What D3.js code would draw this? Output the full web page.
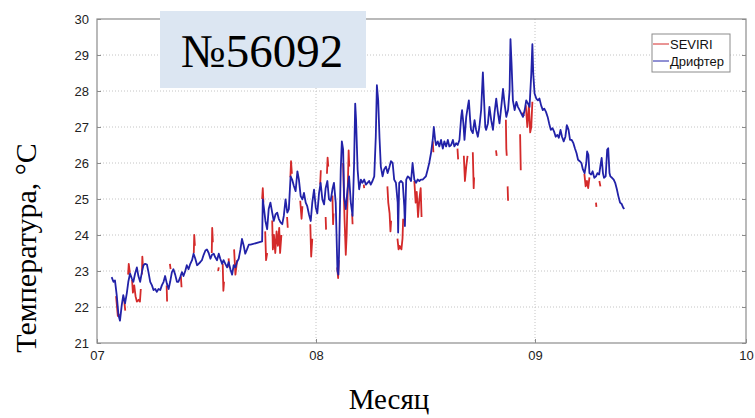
<!DOCTYPE html>
<html>
<head>
<meta charset="utf-8">
<script src="https://cdn.jsdelivr.net/npm/d3@7"></script>
<style>
  body { margin: 0; background: #fff; }
  svg { display: block; }
</style>
</head>
<body>
<script>
// buoy / drifter number shown in the label box
var buoyLabel = "№56092";

// axis ticks (month numbers and temperatures)
var monthTicks = [7, 8, 9, 10];
var monthLabels = ["07", "08", "09", "10"];
var tempTicks = [21, 22, 23, 24, 25, 26, 27, 28, 29, 30];

var seriesNames = ["SEVIRI", "Дрифтер"];

// drifter: time as fractional month, temperature in C
var driftMonth = [
  7.067, 7.075, 7.082, 7.090, 7.098, 7.105, 7.113, 7.120, 7.128, 7.136, 7.143, 7.151, 7.159, 7.166, 7.174, 7.182,
  7.189, 7.197, 7.205, 7.212, 7.220, 7.228, 7.235, 7.243, 7.251, 7.258, 7.266, 7.273, 7.281, 7.289, 7.296, 7.304,
  7.311, 7.319, 7.327, 7.334, 7.342, 7.349, 7.357, 7.365, 7.372, 7.380, 7.388, 7.395, 7.403, 7.410, 7.418, 7.426,
  7.434, 7.441, 7.449, 7.457, 7.464, 7.472, 7.479, 7.487, 7.495, 7.502, 7.510, 7.518, 7.525, 7.533, 7.540, 7.548,
  7.556, 7.563, 7.571, 7.578, 7.586, 7.594, 7.601, 7.609, 7.617, 7.624, 7.632, 7.639, 7.647, 7.655, 7.662, 7.670,
  7.677, 7.685, 7.693, 7.701, 7.754, 7.757, 7.762, 7.769, 7.777, 7.784, 7.792, 7.800, 7.807, 7.815, 7.823, 7.830,
  7.838, 7.846, 7.853, 7.861, 7.869, 7.876, 7.884, 7.891, 7.899, 7.907, 7.915, 7.922, 7.930, 7.938, 7.945, 7.953,
  7.960, 7.968, 7.976, 7.983, 7.991, 7.999, 8.006, 8.014, 8.021, 8.029, 8.037, 8.044, 8.052, 8.059, 8.067, 8.075,
  8.082, 8.090, 8.098, 8.102, 8.105, 8.113, 8.118, 8.124, 8.128, 8.136, 8.144, 8.151, 8.159, 8.167, 8.174, 8.179,
  8.183, 8.190, 8.197, 8.205, 8.212, 8.220, 8.228, 8.235, 8.243, 8.250, 8.258, 8.266, 8.273, 8.278, 8.284, 8.290,
  8.296, 8.304, 8.311, 8.319, 8.327, 8.334, 8.342, 8.350, 8.357, 8.365, 8.373, 8.375, 8.380, 8.388, 8.396, 8.403,
  8.406, 8.412, 8.419, 8.426, 8.434, 8.441, 8.449, 8.457, 8.464, 8.472, 8.479, 8.487, 8.495, 8.502, 8.510, 8.517,
  8.525, 8.533, 8.538, 8.544, 8.548, 8.556, 8.563, 8.571, 8.579, 8.586, 8.594, 8.602, 8.609, 8.617, 8.625, 8.632,
  8.640, 8.647, 8.655, 8.663, 8.667, 8.673, 8.678, 8.686, 8.693, 8.698, 8.704, 8.708, 8.716, 8.724, 8.731, 8.739,
  8.746, 8.754, 8.762, 8.767, 8.773, 8.777, 8.785, 8.792, 8.800, 8.808, 8.815, 8.823, 8.831, 8.838, 8.846, 8.854,
  8.861, 8.869, 8.877, 8.884, 8.888, 8.893, 8.899, 8.907, 8.915, 8.922, 8.930, 8.937, 8.945, 8.953, 8.960, 8.968,
  8.975, 8.983, 8.988, 8.992, 8.998, 9.006, 9.014, 9.021, 9.029, 9.037, 9.044, 9.052, 9.060, 9.067, 9.075, 9.083,
  9.090, 9.098, 9.106, 9.113, 9.121, 9.128, 9.136, 9.144, 9.151, 9.159, 9.166, 9.174, 9.182, 9.189, 9.197, 9.204,
  9.212, 9.220, 9.227, 9.235, 9.243, 9.247, 9.253, 9.258, 9.266, 9.273, 9.281, 9.289, 9.296, 9.304, 9.312, 9.316,
  9.322, 9.327, 9.335, 9.342, 9.347, 9.353, 9.357, 9.365, 9.373, 9.380, 9.388, 9.395, 9.403, 9.411, 9.418, 9.423
];
var driftTemp = [
  22.83, 22.70, 22.74, 22.33, 21.78, 21.62, 22.05, 22.33, 22.10, 22.38, 22.70, 22.93, 22.79, 22.70, 22.93, 23.10,
  22.86, 22.70, 22.97, 23.16, 23.20, 23.18, 22.97, 22.70, 22.60, 22.47, 22.50, 22.42, 22.50, 22.47, 22.60, 22.70,
  22.86, 22.65, 22.50, 22.70, 22.97, 23.05, 22.90, 22.70, 22.70, 22.83, 22.97, 22.86, 23.00, 23.16, 23.05, 23.20,
  23.30, 23.48, 23.34, 23.16, 23.20, 23.25, 23.30, 23.45, 23.57, 23.60, 23.50, 23.34, 23.45, 23.48, 23.38, 23.30,
  23.48, 23.34, 23.20, 23.30, 23.20, 23.10, 23.25, 23.05, 22.90, 23.16, 23.10, 23.25, 23.34, 23.60, 23.89, 23.70,
  23.48, 23.60, 23.73, 23.73, 23.82, 24.99, 24.76, 24.39, 24.16, 24.72, 24.90, 24.62, 24.39, 24.57, 24.62, 24.45,
  24.35, 24.30, 24.53, 24.99, 24.62, 24.72, 25.63, 25.54, 25.36, 25.22, 25.77, 25.54, 25.08, 24.99, 25.17, 24.90,
  24.80, 24.57, 24.39, 24.90, 25.26, 24.76, 24.60, 25.17, 25.45, 24.99, 24.85, 25.30, 25.50, 25.00, 24.95, 25.27,
  25.45, 24.90, 23.00, 22.90, 23.43, 25.82, 26.60, 26.37, 25.08, 24.72, 25.27, 25.63, 24.90, 24.53, 26.00, 27.65,
  27.19, 25.82, 25.27, 25.54, 25.45, 25.54, 25.40, 25.45, 25.50, 25.40, 25.50, 25.63, 26.73, 28.16, 27.74, 26.70,
  25.90, 25.63, 25.82, 25.90, 25.72, 25.86, 26.05, 26.00, 25.54, 25.45, 24.90, 24.07, 25.45, 25.50, 25.45, 24.80,
  24.25, 25.54, 25.63, 25.59, 25.50, 26.00, 25.54, 25.45, 25.54, 25.50, 25.54, 25.54, 25.59, 25.63, 25.82, 26.00,
  26.27, 26.64, 27.00, 26.64, 26.50, 26.60, 26.46, 26.64, 26.40, 26.60, 26.46, 26.64, 26.46, 26.50, 26.64, 26.46,
  26.55, 26.50, 26.64, 27.28, 27.47, 27.10, 26.64, 27.28, 27.56, 27.74, 27.19, 26.92, 26.83, 27.19, 26.92, 26.73,
  27.00, 27.47, 28.52, 27.80, 27.00, 26.92, 27.10, 27.56, 27.19, 26.92, 27.38, 27.79, 27.38, 27.10, 27.56, 28.06,
  27.65, 27.28, 27.47, 28.02, 29.44, 28.75, 27.74, 27.47, 27.70, 27.56, 27.47, 27.38, 27.28, 27.47, 27.74, 27.65,
  27.56, 28.48, 29.30, 28.48, 27.93, 27.79, 27.74, 27.79, 27.60, 27.47, 27.51, 27.42, 27.28, 27.10, 26.92, 26.97,
  26.88, 26.73, 26.78, 26.70, 26.92, 26.73, 26.60, 26.73, 27.05, 26.92, 26.64, 26.64, 26.55, 26.41, 26.27, 26.09,
  26.05, 26.00, 25.82, 25.72, 26.00, 26.32, 26.23, 25.72, 25.68, 25.77, 25.59, 25.63, 25.72, 25.68, 26.00, 26.14,
  25.72, 25.59, 25.63, 26.37, 26.41, 25.72, 25.63, 25.59, 25.54, 25.45, 25.27, 25.08, 24.90, 24.86, 24.76, 24.72
];

// SEVIRI: only the pieces that show from under the drifter line, null = gap
var seviriMonth = [
  7.087, 7.095, 7.103, null, 7.124, 7.129, null, 7.142, 7.145, 7.150, null,
  7.160, 7.164, 7.170, 7.176, 7.182, 7.190, 7.196, 7.200, null, 7.205, 7.207, 7.210, null,
  7.318, 7.320, null, 7.333, 7.336, null, 7.383, 7.386, null, 7.442, 7.444, 7.447, null,
  7.524, 7.526, 7.529, null, 7.553, 7.556, null, 7.574, 7.577, 7.580, null, 7.601, 7.604, null,
  7.626, 7.632, 7.640, null, 7.754, 7.757, 7.760, null, 7.768, 7.772, 7.777, null,
  7.800, 7.803, 7.808, 7.814, 7.820, 7.826, 7.832, 7.836, 7.842, null, 7.868, 7.871, null,
  7.883, 7.886, 7.890, null, 7.928, 7.934, 7.938, null, 7.974, 7.978, 7.983, null,
  8.019, 8.022, null, 8.044, 8.046, null, 8.050, 8.053, 8.056, null, 8.075, 8.078, 8.080, null,
  8.097, 8.101, 8.104, null, 8.124, 8.130, 8.136, 8.140, 8.144, 8.149, 8.152, null,
  8.165, 8.167, null, 8.218, 8.220, null, 8.326, 8.330, 8.336, 8.340, 8.343, null,
  8.372, 8.377, 8.382, 8.390, 8.395, 8.398, null, 8.449, 8.455, 8.460, 8.466, 8.472, 8.478, 8.482, null,
  8.533, 8.536, null, 8.646, 8.649, null, 8.675, 8.680, 8.686, 8.692, null, 8.716, 8.720, 8.722, null,
  8.822, 8.825, null, 8.867, 8.869, 8.871, null, 8.875, 8.877, null, 8.932, 8.935, null, 8.943, 8.950, null,
  8.958, 8.965, 8.972, 8.978, 8.983, 8.988, null, 9.234, 9.240, 9.246, 9.252, 9.258, null,
  9.289, 9.291, null, 9.305, 9.310
];
var seviriTemp = [
  22.30, 21.75, 21.80, null, 22.20, 21.90, null, 22.90, 23.20, 22.95, null,
  22.75, 22.40, 22.60, 22.30, 22.15, 22.20, 22.15, 22.50, null, 22.90, 23.40, 23.10, null,
  22.60, 22.15, null, 23.20, 23.05, null, 22.85, 22.55, null, 23.50, 24.00, 23.70, null,
  23.50, 24.20, 23.80, null, 23.00, 23.10, null, 23.20, 22.45, 22.70, null, 23.35, 23.10, null,
  23.60, 22.90, 23.30, null, 25.00, 25.30, 24.90, null, 24.10, 23.30, 23.50, null,
  24.40, 23.60, 24.00, 23.50, 24.10, 23.70, 24.20, 23.50, 24.00, null, 24.50, 24.20, null,
  25.60, 26.05, 25.70, null, 24.95, 24.45, 24.80, null, 24.30, 23.40, 23.90, null,
  25.40, 25.80, null, 24.50, 24.15, null, 25.70, 26.15, 25.90, null, 25.10, 24.30, 24.60, null,
  23.10, 22.80, 23.30, null, 26.00, 24.50, 23.45, 24.00, 25.00, 26.35, 25.90, null,
  24.60, 24.30, null, 25.40, 25.30, null, 25.35, 24.90, 24.60, 24.10, 24.40, null,
  23.90, 23.60, 23.70, 23.60, 23.90, 24.45, null, 25.50, 24.90, 25.20, 24.50, 25.00, 25.30, 24.50, null,
  26.60, 26.30, null, 26.40, 26.10, null, 26.20, 25.50, 25.90, 26.20, null, 26.30, 25.30, 25.60, null,
  26.35, 26.20, null, 27.20, 26.40, 26.20, null, 25.35, 24.95, null, 26.80, 25.80, null, 27.40, 27.30, null,
  27.60, 27.00, 27.60, 26.85, 27.00, 27.70, null, 25.70, 25.35, 25.50, 25.30, 25.60, null,
  24.90, 24.78, null, 25.50, 25.35
];

var W = 755, H = 418;
var plot = {left: 97, right: 746, top: 19, bottom: 343};

var svg = d3.select("body").append("svg")
    .attr("width", W)
    .attr("height", H);

// month axis: July, August have 31 days, September 30 -> uneven spacing
var x = d3.scaleLinear()
    .domain(monthTicks)
    .range([plot.left, 316, 535, plot.right]);

var y = d3.scaleLinear()
    .domain([21, 30])
    .range([plot.bottom, plot.top]);

// grid (dotted)
svg.append("g")
    .selectAll("line")
    .data(tempTicks.slice(1, -1))
    .join("line")
      .attr("x1", plot.left).attr("x2", plot.right)
      .attr("y1", function(d) { return y(d); })
      .attr("y2", function(d) { return y(d); })
      .attr("stroke", "#c4c4c4")
      .attr("stroke-dasharray", "1,2");

svg.append("g")
    .selectAll("line")
    .data(monthTicks.slice(1, -1))
    .join("line")
      .attr("x1", function(d) { return x(d); })
      .attr("x2", function(d) { return x(d); })
      .attr("y1", plot.top).attr("y2", plot.bottom)
      .attr("stroke", "#c4c4c4")
      .attr("stroke-dasharray", "1,2");

// frame box
svg.append("rect")
    .attr("x", plot.left).attr("y", plot.top)
    .attr("width", plot.right - plot.left)
    .attr("height", plot.bottom - plot.top)
    .attr("fill", "none")
    .attr("stroke", "#8c8c8c")
    .attr("stroke-width", 1.2);

// axes with inward ticks
var yAxis = d3.axisLeft(y).tickValues(tempTicks).tickSize(-4).tickPadding(8);
var gy = svg.append("g")
    .attr("transform", "translate(" + plot.left + ",0)")
    .call(yAxis);
var gyr = svg.append("g")
    .attr("transform", "translate(" + plot.right + ",0)")
    .call(d3.axisRight(y).tickValues(tempTicks).tickSize(-4).tickFormat(""));

var xAxis = d3.axisBottom(x)
    .tickValues(monthTicks)
    .tickFormat(function(d, i) { return monthLabels[i]; })
    .tickSize(-4)
    .tickPadding(8);
var gx = svg.append("g")
    .attr("transform", "translate(0," + plot.bottom + ")")
    .call(xAxis);

[gy, gyr, gx].forEach(function(g) {
  g.select(".domain").remove();
  g.selectAll(".tick line").attr("stroke", "#8c8c8c");
  g.selectAll("text")
      .attr("fill", "#222")
      .style("font-family", "Arial, 'Liberation Sans', sans-serif")
      .style("font-size", "13px");
});
gy.selectAll("text").attr("dy", "0.32em");
gx.selectAll("text").attr("dy", "0.71em");

// series
var driftData = d3.zip(driftMonth, driftTemp);
var seviriData = d3.zip(seviriMonth, seviriTemp);

var line = d3.line()
    .defined(function(d) { return d[0] != null && d[1] != null; })
    .x(function(d) { return x(d[0]); })
    .y(function(d) { return y(d[1]); });

svg.append("path")
    .datum(seviriData)
    .attr("d", line)
    .attr("fill", "none")
    .attr("stroke", "#d42a2a")
    .attr("stroke-width", 1.8)
    .attr("stroke-linejoin", "round");

svg.append("path")
    .datum(driftData)
    .attr("d", line)
    .attr("fill", "none")
    .attr("stroke", "#2222a8")
    .attr("stroke-width", 1.8)
    .attr("stroke-linejoin", "round");

// legend
var legend = svg.append("g").attr("transform", "translate(652,34)");
legend.append("rect")
    .attr("width", 78).attr("height", 38)
    .attr("fill", "#fff")
    .attr("stroke", "#8c8c8c");
var legendColors = ["#d42a2a", "#2222a8"];
seriesNames.forEach(function(name, i) {
  legend.append("line")
      .attr("x1", 1).attr("x2", 17)
      .attr("y1", 10 + i * 17).attr("y2", 10 + i * 17)
      .attr("stroke", legendColors[i]);
  legend.append("text")
      .attr("x", 18).attr("y", 10 + i * 17)
      .attr("dy", "0.35em")
      .style("font-family", "Arial, 'Liberation Sans', sans-serif")
      .style("font-size", "13px")
      .attr("fill", "#111")
      .text(name);
});

// label box with buoy number
svg.append("rect")
    .attr("x", 160).attr("y", 11)
    .attr("width", 206).attr("height", 77)
    .attr("fill", "#dce6f2");
svg.append("text")
    .attr("x", 262).attr("y", 67)
    .attr("text-anchor", "middle")
    .style("font-family", "'Liberation Serif', 'Times New Roman', serif")
    .style("font-size", "47px")
    .attr("fill", "#000")
    .text(buoyLabel);

// axis titles
svg.append("text")
    .attr("transform", "translate(36,248) rotate(-90)")
    .attr("text-anchor", "middle")
    .style("font-family", "'Liberation Serif', 'Times New Roman', serif")
    .style("font-size", "30px")
    .attr("fill", "#000")
    .text("Температура, °C");

svg.append("text")
    .attr("x", 389).attr("y", 409)
    .attr("text-anchor", "middle")
    .style("font-family", "'Liberation Serif', 'Times New Roman', serif")
    .style("font-size", "29px")
    .attr("fill", "#000")
    .text("Месяц");
</script>
</body>
</html>
